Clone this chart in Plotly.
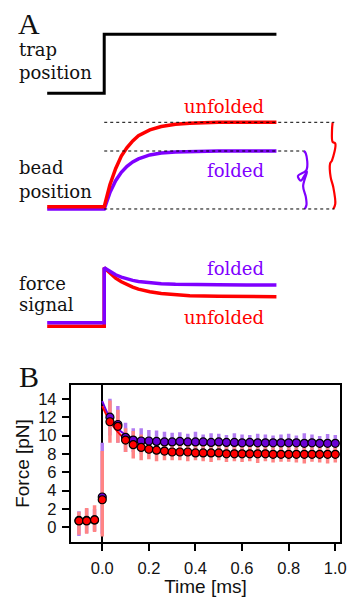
import plotly.graph_objects as go

W, H = 357, 597

# ---------------- Panel A: schematic traces ----------------
sched_t = [-1.0, 0.0, 0.0, 0.1, 0.2, 0.3, 0.4, 0.5, 0.6, 0.8, 1.0, 1.25, 1.5, 2.0, 2.5, 3.02]
trap_t = [-1.0, 0.0, 0.0, 3.02]
trap_pos = [0, 0, 1, 1]
bead_unfolded = [0, 0, 0, 0.26, 0.45, 0.60, 0.70, 0.78, 0.84, 0.91, 0.95, 0.977, 0.99, 1.0, 1.0, 1.0]
bead_folded = [-0.027, -0.027, -0.027, 0.167, 0.308, 0.407, 0.479, 0.530, 0.567, 0.613, 0.635,
               0.649, 0.655, 0.659, 0.66, 0.66]
sig_unfolded = [0, 0, 1.0, 0.901, 0.822, 0.759, 0.708, 0.668, 0.635, 0.589, 0.559, 0.536, 0.523,
                0.511, 0.508, 0.506]
sig_folded = [0.061, 0.061, 1.0, 0.932, 0.879, 0.839, 0.808, 0.784, 0.766, 0.741, 0.726, 0.716,
              0.711, 0.707, 0.706, 0.705]

# ---------------- Panel B: measured force ----------------
time_ms = [-0.1, -0.067, -0.033, 0.0, 0.033, 0.067, 0.1, 0.133, 0.167, 0.2,
           0.233, 0.267, 0.3, 0.333, 0.367, 0.4, 0.433, 0.467, 0.5, 0.533,
           0.567, 0.6, 0.633, 0.667, 0.7, 0.733, 0.767, 0.8, 0.833, 0.867,
           0.9, 0.933, 0.967, 1.0]
force_unfolded = [0.7, 0.7, 0.8, 3.0, 11.5, 11.0, 9.5, 9.0, 8.7, 8.5, 8.4, 8.3, 8.2, 8.2, 8.2,
                  8.1, 8.1, 8.1, 8.1, 8.0, 8.0, 8.0, 8.0, 8.0, 8.0, 7.95, 7.95, 7.95, 7.95, 7.95,
                  7.95, 7.95, 7.95, 7.95]
force_folded = [0.75, 0.75, 0.8, 3.3, 12.0, 11.2, 9.8, 9.5, 9.4, 9.4, 9.35, 9.3, 9.3, 9.35, 9.3,
                9.3, 9.3, 9.25, 9.3, 9.25, 9.25, 9.2, 9.25, 9.2, 9.2, 9.2, 9.2, 9.2, 9.2, 9.15,
                9.2, 9.15, 9.15, 9.15]
err_unf_plus = [1.0, 1.4, 1.6, 5.3, 2.3, 1.8, 1.3, 1.5, 1.4, 1.1, 1.2, 1.0, 0.9,
                0.9, 1.0, 0.8, 0.9, 1.0, 0.8, 0.9, 0.8, 0.9, 0.8, 1.0, 0.8, 0.9, 0.8, 0.8, 0.9,
                1.0, 0.8, 0.9, 1.0, 0.9]
err_unf_minus = [1.5, 1.4, 1.3, 4.0, 2.3, 1.8, 1.3, 1.5, 1.4, 1.1, 1.2, 1.0, 0.9,
                 0.9, 1.0, 0.8, 0.9, 1.0, 0.8, 0.9, 0.8, 0.9, 0.8, 1.0, 0.8, 0.9, 0.8, 0.8, 0.9,
                 1.0, 0.8, 0.9, 1.0, 0.9]
err_fold_plus = [1.0, 1.3, 1.2, 5.9, 2.0, 2.0, 1.6, 1.3, 1.4, 1.2, 1.2, 1.1, 1.0,
                 1.0, 0.9, 1.1, 0.8, 1.0, 0.9, 0.8, 1.0, 0.9, 0.8, 1.0, 0.9, 0.8, 0.9, 1.0, 0.8,
                 1.1, 0.9, 0.8, 1.0, 0.9]
err_fold_minus = [1.7, 1.4, 1.2, 4.0, 2.0, 2.0, 1.6, 1.3, 1.4, 1.2, 1.2, 1.1, 1.0,
                  1.0, 0.9, 1.1, 0.8, 1.0, 0.9, 0.8, 1.0, 0.9, 0.8, 1.0, 0.9, 0.8, 0.9, 1.0, 0.8,
                  1.1, 0.9, 0.8, 1.0, 0.9]
fit_t = [0, 0.025, 0.05, 0.075, 0.1, 0.125, 0.15, 0.2, 0.25, 0.3, 0.4, 0.5, 0.6, 0.8, 1.0]
fit_unfolded = [13.2, 11.9, 10.9, 10.15, 9.55, 9.2, 8.95, 8.6, 8.4, 8.3, 8.15, 8.08, 8.03, 7.98, 7.95]
fit_folded = [13.75, 12.3, 11.25, 10.55, 10.1, 9.8, 9.62, 9.45, 9.38, 9.35, 9.3, 9.27, 9.25, 9.22, 9.2]
x_ticks = [0.0, 0.2, 0.4, 0.6, 0.8, 1.0]
y_ticks = [0, 2, 4, 6, 8, 10, 12, 14]

RED = "#ff0000"
VIOLET = "#7f00ff"
SERIF = "DejaVu Serif"
SANS = "Liberation Sans, Arial, sans-serif"


def px(x):
    return x / W


def py(y):
    return 1 - y / H


# schematic axis geometry (pixels)
T_PX = 58.0      # pixels per schematic time unit
T0_PX = 106.0    # pixel x of the step


def band(p0, p1, top, bot):
    """domain and range for a y axis where value 0 sits at pixel p0 and value 1 at p1"""
    s = p0 - p1
    return [py(bot), py(top)], [(p0 - bot) / s, (p0 - top) / s]


dom_trap, rng_trap = band(93.3, 34.3, 18, 102)
dom_bead, rng_bead = band(206.7, 122.3, 108, 218)
dom_sig, rng_sig = band(326.3, 267.7, 252, 338)

fig = go.Figure()

# ---- Panel A traces ----
fig.add_trace(go.Scatter(x=trap_t, y=trap_pos, mode="lines", line=dict(color="black", width=3),
                         xaxis="x2", yaxis="y2", hoverinfo="skip"))
fig.add_trace(go.Scatter(x=sched_t, y=bead_folded, mode="lines", line=dict(color=VIOLET, width=3.5),
                         xaxis="x2", yaxis="y3", hoverinfo="skip"))
fig.add_trace(go.Scatter(x=sched_t, y=bead_unfolded, mode="lines", line=dict(color=RED, width=3.5),
                         xaxis="x2", yaxis="y3", hoverinfo="skip"))
fig.add_trace(go.Scatter(x=sched_t, y=sig_unfolded, mode="lines", line=dict(color=RED, width=3.5),
                         xaxis="x2", yaxis="y4", hoverinfo="skip"))
fig.add_trace(go.Scatter(x=sched_t, y=sig_folded, mode="lines", line=dict(color=VIOLET, width=3.5),
                         xaxis="x2", yaxis="y4", hoverinfo="skip"))

# dashed guide lines and braces (derived from the bead levels)
top_lvl = bead_unfolded[-1]
mid_lvl = bead_folded[-1]
bot_lvl = min(bead_unfolded[0], bead_folded[0])
t_red_brace = (338.3 - T0_PX) / T_PX
t_vio_brace = (309.0 - T0_PX) / T_PX
t_dash_end = (340.0 - T0_PX) / T_PX
for lvl, tend in [(top_lvl, t_dash_end), (mid_lvl, t_vio_brace), (bot_lvl, t_dash_end)]:
    fig.add_shape(type="line", xref="x2", yref="y3", x0=0, x1=tend, y0=lvl, y1=lvl,
                  line=dict(color="black", width=1, dash="3px,3px"))


def brace(t0, ytop, ybot, fracs, dxs):
    xs = [t0 + d / T_PX for d in dxs]
    ys = [ytop - f * (ytop - ybot) for f in fracs]
    return xs, ys


bx, by = brace(t_red_brace, top_lvl, bot_lvl,
               [0, 0.09, 0.226, 0.244, 0.438, 0.477, 0.633, 0.749, 0.942, 1.0],
               [0, -0.6, 0, 2.7, -0.6, -2.6, -2, 0.7, 2.7, 0.7])
fig.add_trace(go.Scatter(x=bx, y=by, mode="lines", line=dict(color=RED, width=2.2, shape="spline"),
                         xaxis="x2", yaxis="y3", hoverinfo="skip"))
bx, by = brace(t_vio_brace, mid_lvl, bot_lvl,
               [0, 0.04, 0.326, 0.43, 0.512, 0.414, 0.357, 0.603, 0.788, 0.931, 1.0],
               [0, 2, 2.7, -6, -3, 1, 3.3, -0.7, 2, 2.7, 1])
fig.add_trace(go.Scatter(x=bx, y=by, mode="lines", line=dict(color=VIOLET, width=2.2, shape="spline"),
                         xaxis="x2", yaxis="y3", hoverinfo="skip"))

# ---- Panel B traces ----
clear = dict(color="rgba(0,0,0,0)", size=1)
fig.add_trace(go.Scatter(x=time_ms, y=force_folded, mode="markers", marker=clear,
                         error_y=dict(type="data", symmetric=False, array=err_fold_plus,
                                      arrayminus=err_fold_minus, color="#b27cf2",
                                      thickness=3.5, width=0)))
fig.add_trace(go.Scatter(x=time_ms, y=force_unfolded, mode="markers", marker=clear,
                         error_y=dict(type="data", symmetric=False, array=err_unf_plus,
                                      arrayminus=err_unf_minus, color="#ff8484",
                                      thickness=3.5, width=0)))
fig.add_trace(go.Scatter(x=fit_t, y=fit_folded, mode="lines",
                         line=dict(color="#6f00e6", width=2, shape="spline")))
fig.add_trace(go.Scatter(x=fit_t, y=fit_unfolded, mode="lines",
                         line=dict(color=RED, width=2, shape="spline")))
fig.add_trace(go.Scatter(x=time_ms, y=force_folded, mode="markers",
                         marker=dict(color="#6a00d4", size=8, line=dict(color="black", width=1.2))))
fig.add_trace(go.Scatter(x=time_ms, y=force_unfolded, mode="markers",
                         marker=dict(color=RED, size=8, line=dict(color="black", width=1.2))))

axis_b = dict(showline=True, linecolor="black", linewidth=2, mirror=True, ticks="outside",
              ticklen=7, tickwidth=2, tickcolor="black", showgrid=False,
              tickfont=dict(family=SANS, size=16.5, color="#111"))
hidden = dict(visible=False, showgrid=False, zeroline=False, fixedrange=True)
title_font = dict(family=SANS, size=19, color="#111")

fig.update_layout(
    width=W, height=H, margin=dict(l=0, r=0, t=0, b=0),
    paper_bgcolor="white", plot_bgcolor="rgba(0,0,0,0)", showlegend=False,
    xaxis=dict(domain=[px(72), px(346)], range=[-0.135, 1.021], tickvals=x_ticks,
               tickformat=".1f", zeroline=True, zerolinecolor="black", zerolinewidth=2,
               ticklabelstandoff=3,
               title=dict(text="Time [ms]", font=title_font, standoff=2),
               **axis_b),
    yaxis=dict(domain=[py(542), py(385)], range=[-1.6, 15.5], tickvals=y_ticks, zeroline=False,
               ticklabelstandoff=2,
               title=dict(text="Force [pN]", font=title_font, standoff=3),
               **axis_b),
    xaxis2=dict(domain=[0, 1], range=[-T0_PX / T_PX, (W - T0_PX) / T_PX], anchor="y2", **hidden),
    yaxis2=dict(domain=dom_trap, range=rng_trap, anchor="x2", **hidden),
    yaxis3=dict(domain=dom_bead, range=rng_bead, anchor="x2", **hidden),
    yaxis4=dict(domain=dom_sig, range=rng_sig, anchor="x2", **hidden),
)

word = dict(family=SERIF, size=18, color="#111")
notes = [
    ("A", 16, 23, "left", dict(family="Liberation Serif", size=30, color="#111")),
    ("B", 17, 376, "left", dict(family="Liberation Serif", size=30, color="#111")),
    ("trap", 17, 49.8, "left", word),
    ("position", 17, 72.8, "left", word),
    ("bead", 17, 167, "left", word),
    ("position", 17, 191, "left", word),
    ("force", 17, 283.8, "left", word),
    ("signal", 17, 304.8, "left", word),
    ("unfolded", 271, 106.8, "right", dict(word, color=RED)),
    ("folded", 271, 170.8, "right", dict(word, color=VIOLET)),
    ("folded", 271, 268.8, "right", dict(word, color=VIOLET)),
    ("unfolded", 271, 317, "right", dict(word, color=RED)),
]
for text, x, y, anchor, font in notes:
    fig.add_annotation(text=text, x=px(x), y=py(y), xref="paper", yref="paper",
                       xanchor=anchor, yanchor="middle", showarrow=False, font=font)

fig.write_html("out.html")
